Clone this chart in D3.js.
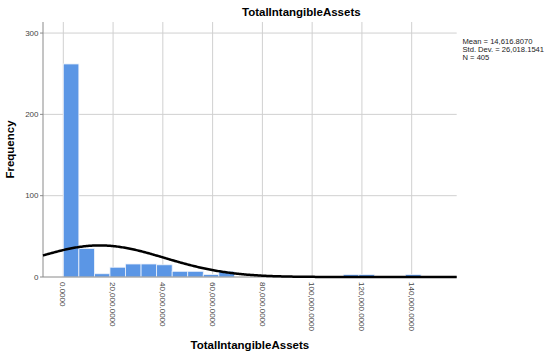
<!DOCTYPE html>
<html>
<head>
  <meta charset="UTF-8">
  <title>TotalIntangibleAssets</title>
  <style>
    body { margin: 0; background: #fff; }
    svg { font-family: "Liberation Sans", Arial, sans-serif; }
  </style>
</head>
<body>
  <div id="chart"></div>
  <script src="https://d3js.org/d3.v7.min.js"></script>
  <script>
    // histogram data
    const binWidth = 6250;
    const counts = [262, 35, 4, 12, 16, 16, 15, 7, 7, 3, 7, 0, 0, 0, 0, 0, 0, 0, 3, 3, 0, 0, 3];
    const xTicks = [0, 20000, 40000, 60000, 80000, 100000, 120000, 140000];
    const yTicks = [0, 100, 200, 300];
    const statLines = ["Mean = 14,616.8070", "Std. Dev. = 26,018.1541", "N = 405"];
    const mean = 14616.807, sd = 26018.1541, n = 405;

    const width = 550, height = 356;
    const plotL = 43, plotR = 456.7, plotT = 22, plotB = 277;

    const svg = d3.select("#chart").append("svg")
      .attr("width", width)
      .attr("height", height);

    const x = d3.scaleLinear().domain([-8160, 158090]).range([plotL, plotR]);
    const y = d3.scaleLinear().domain([0, 313.6]).range([plotB, plotT]);

    // grid
    svg.selectAll(".vgrid").data(xTicks).enter().append("line")
      .attr("x1", d => x(d)).attr("x2", d => x(d))
      .attr("y1", plotT).attr("y2", plotB)
      .attr("stroke", "#d0d0d0").attr("stroke-width", 1);
    svg.selectAll(".hgrid").data(yTicks.filter(d => d > 0)).enter().append("line")
      .attr("x1", plotL).attr("x2", plotR)
      .attr("y1", d => y(d)).attr("y2", d => y(d))
      .attr("stroke", "#d0d0d0").attr("stroke-width", 1);

    // bars
    svg.selectAll("rect.bar")
      .data(counts.map((c, i) => ({c: c, i: i})).filter(d => d.c > 0))
      .enter().append("rect")
      .attr("class", "bar")
      .attr("x", d => x(d.i * binWidth))
      .attr("width", d => x((d.i + 1) * binWidth) - x(d.i * binWidth))
      .attr("y", d => y(d.c))
      .attr("height", d => y(0) - y(d.c))
      .attr("fill", "#5b96e5")
      .attr("stroke", "#eef3fb")
      .attr("stroke-width", 0.8);

    // axes lines
    svg.append("line")
      .attr("x1", plotL).attr("x2", plotL).attr("y1", plotT).attr("y2", plotB)
      .attr("stroke", "#8a8a8a").attr("stroke-width", 1);
    svg.append("line")
      .attr("x1", plotL).attr("x2", plotR).attr("y1", plotB).attr("y2", plotB)
      .attr("stroke", "#8a8a8a").attr("stroke-width", 1);

    // normal curve from the shown statistics
    const dens = v => n * binWidth / (sd * Math.sqrt(2 * Math.PI)) * Math.exp(-0.5 * Math.pow((v - mean) / sd, 2));
    const xs = d3.range(x.domain()[0], x.domain()[1], 500).concat([x.domain()[1]]);
    svg.append("path")
      .attr("d", d3.line().x(v => x(v)).y(v => y(dens(v)))(xs))
      .attr("fill", "none")
      .attr("stroke", "#000")
      .attr("stroke-width", 2.5);

    // y tick labels
    svg.selectAll(".ylab").data(yTicks).enter().append("text")
      .attr("x", 38.5)
      .attr("y", d => y(d))
      .attr("dy", "0.35em")
      .attr("text-anchor", "end")
      .attr("font-size", "8px")
      .attr("fill", "#444")
      .text(d => d);
    svg.selectAll(".ytick").data(yTicks).enter().append("line")
      .attr("x1", plotL - 3).attr("x2", plotL)
      .attr("y1", d => y(d)).attr("y2", d => y(d))
      .attr("stroke", "#8a8a8a");

    // x tick labels, rotated
    const fmt = d3.format(",.4f");
    svg.selectAll(".xlab").data(xTicks).enter().append("text")
      .attr("transform", d => "translate(" + x(d) + "," + 282 + ") rotate(90)")
      .attr("dy", "0.35em")
      .attr("font-size", "8px")
      .attr("fill", "#444")
      .text(d => fmt(d));

    // titles
    svg.append("text")
      .attr("x", 242).attr("y", 16)
      .attr("font-size", "11.5px")
      .attr("font-weight", "bold")
      .text("TotalIntangibleAssets");
    svg.append("text")
      .attr("x", (plotL + plotR) / 2).attr("y", 349)
      .attr("text-anchor", "middle")
      .attr("font-size", "11.5px")
      .attr("font-weight", "bold")
      .text("TotalIntangibleAssets");
    svg.append("text")
      .attr("transform", "translate(14," + ((plotT + plotB) / 2) + ") rotate(-90)")
      .attr("text-anchor", "middle")
      .attr("font-size", "11.5px")
      .attr("font-weight", "bold")
      .text("Frequency");

    // stats box
    svg.selectAll(".stat").data(statLines).enter().append("text")
      .attr("x", 462.5)
      .attr("y", (d, i) => 44 + i * 8)
      .attr("font-size", "7.6px")
      .attr("fill", "#222")
      .text(d => d);
  </script>
</body>
</html>
